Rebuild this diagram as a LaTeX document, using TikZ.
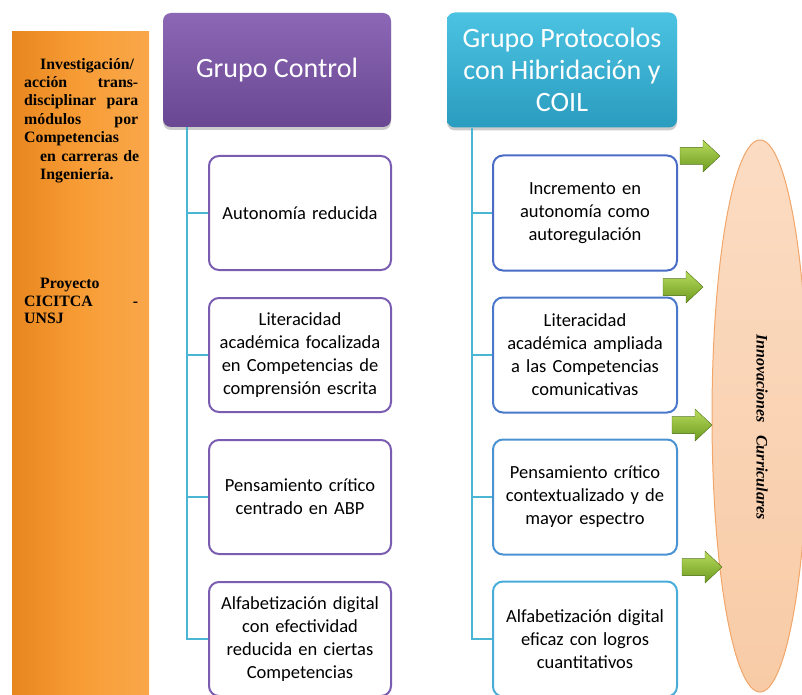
\documentclass[tikz,border=0pt]{standalone}
\usepackage{fontspec}
\setmainfont{Liberation Serif}
\newfontfamily\carl{Carlito}
\usetikzlibrary{shadows}
\definecolor{orgA}{HTML}{F89D36}
\definecolor{orgB}{HTML}{E8861E}
\definecolor{purA}{HTML}{8B67B5}
\definecolor{purB}{HTML}{6A4792}
\definecolor{cyaA}{HTML}{4CC3E2}
\definecolor{cyaB}{HTML}{2A9CBF}
\definecolor{purL}{HTML}{7A5CB0}
\definecolor{lnk}{HTML}{4BB6D4}
\definecolor{bl1}{HTML}{4A6CC6}
\definecolor{bl2}{HTML}{4A78CA}
\definecolor{bl3}{HTML}{4A92D2}
\definecolor{bl4}{HTML}{48ADD8}
\definecolor{pchA}{HTML}{FBDCC3}
\definecolor{pchB}{HTML}{F8CBA6}
\definecolor{pchL}{HTML}{F2A66A}
\definecolor{grA}{HTML}{B8DC5C}
\definecolor{grB}{HTML}{6C9A20}
\tikzset{
  header/.style={rounded corners=8pt, text=white, align=center,
    font=\carl\fontsize{28}{32}\selectfont,
    drop shadow={shadow xshift=0pt, shadow yshift=-3pt, opacity=0.4}},
  leftchild/.style={draw=purL, line width=2pt, fill=white, rounded corners=10pt,
    minimum width=182pt, minimum height=114pt, text width=165pt, align=center,
    font=\carl\fontsize{18.5}{23}\selectfont},
  rightchild/.style={leftchild, minimum width=184pt, minimum height=115pt},
  link/.style={draw=lnk, line width=2pt},
  garrow/.pic={\fill[top color=grA, bottom color=grB, draw=grB!80!black, line width=0.3pt]
     (0,-8.5) -- (23,-8.5) -- (23,-16) -- (40,0) -- (23,16) -- (23,8.5) -- (0,8.5) -- cycle;}
}
\begin{document}
\begin{tikzpicture}[x=1pt,y=-1pt]
\useasboundingbox (0,0) rectangle (802,695);
% orange side panel
\node[left color=orgB, right color=orgA!90!white, middle color=orgA, minimum width=137pt, minimum height=670pt,
  inner sep=0pt] (panel) at (80.5,367) {};
\node[text width=114pt, align=left, font=\bfseries\fontsize{15.8}{18.4}\selectfont, anchor=north west, inner sep=0pt]
  (ptext) at (24,58) {\hspace*{16pt}Investigación/\\
  acción\hfill trans-\\
  disciplinar\hfill para\\
  módulos\hfill por\\
  Competencias\\
  \hspace*{16pt}\mbox{en carreras de}\\
  \hspace*{16pt}Ingeniería.};
\node[text width=114pt, align=left, font=\bfseries\fontsize{15.8}{17.5}\selectfont, anchor=north west, inner sep=0pt]
  (ptext2) at (24,278) {\hspace*{16pt}Proyecto\\
  CICITCA\hfill -\\
  UNSJ};
% ellipse
\path[top color=pchA, bottom color=pchB, draw=pchL, line width=1pt] (760,416) ellipse [x radius=48, y radius=276];
\node[rotate=-90, font=\bfseries\itshape\fontsize{16}{18}\selectfont] (innov) at (762,427) {Innovaciones\hspace{12pt}Curriculares};
% headers
\node[header, top color=purA, bottom color=purB, minimum width=228pt, minimum height=114pt] (hc) at (277,70) {Grupo Control};
\node[header, top color=cyaA, bottom color=cyaB, minimum width=230pt, minimum height=115pt] (hp) at (562,70)
  {Grupo Protocolos\\con Hibridación y\\COIL};
% left children
\node[leftchild] (c1) at (300,213) {Autonomía reducida};
\node[leftchild] (c2) at (300,355) {Literacidad\\académica focalizada\\en Competencias de\\comprensión escrita};
\node[leftchild] (c3) at (300,497) {Pensamiento crítico\\centrado en ABP};
\node[leftchild] (c4) at (300,639) {Alfabetización digital\\con efectividad\\reducida en ciertas\\Competencias};
% right children
\node[rightchild, draw=bl1] (r1) at (585,213) {Incremento en\\autonomía como\\autoregulación};
\node[rightchild, draw=bl2] (r2) at (585,355) {Literacidad\\académica ampliada\\a las Competencias\\comunicativas};
\node[rightchild, draw=bl3] (r3) at (585,497) {Pensamiento crítico\\contextualizado y de\\mayor espectro};
\node[rightchild, draw=bl4] (r4) at (585,639) {Alfabetización digital\\eficaz con logros\\cuantitativos};
% connectors
\draw[link] ([xshift=24pt]hc.south west) |- (c1.west);
\draw[link] ([xshift=24pt]hc.south west) |- (c2.west);
\draw[link] ([xshift=24pt]hc.south west) |- (c3.west);
\draw[link] ([xshift=24pt]hc.south west) |- (c4.west);
\draw[link] ([xshift=25pt]hp.south west) |- (r1.west);
\draw[link] ([xshift=25pt]hp.south west) |- (r2.west);
\draw[link] ([xshift=25pt]hp.south west) |- (r3.west);
\draw[link] ([xshift=25pt]hp.south west) |- (r4.west);
% green arrows
\pic at (680,156) {garrow};
\pic at (663,287) {garrow};
\pic at (672,425) {garrow};
\pic at (682,567) {garrow};
\end{tikzpicture}
\end{document}
